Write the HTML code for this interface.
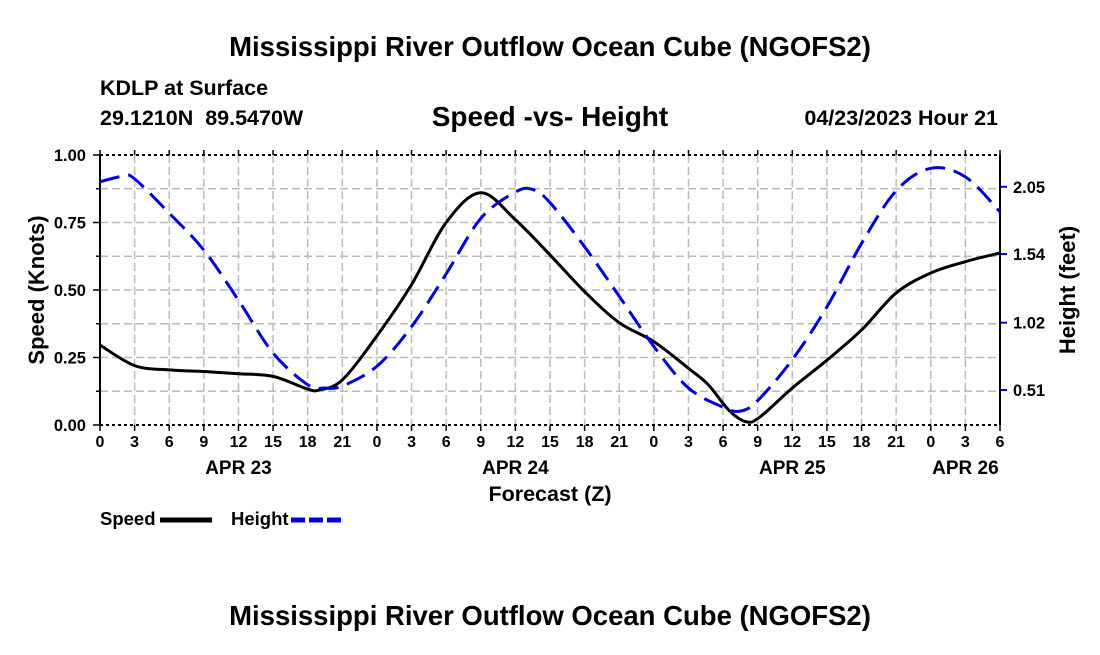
<!DOCTYPE html>
<html><head><meta charset="utf-8"><style>
body{margin:0;background:#fff;width:1100px;height:650px;overflow:hidden}
svg{font-family:"Liberation Sans",Arial,sans-serif;font-weight:bold}
</style></head><body>
<svg id="c" width="1100" height="650">
<text x="550" y="56" text-anchor="middle" font-size="27.5">Mississippi River Outflow Ocean Cube (NGOFS2)</text>
<text x="100" y="95" font-size="21.5">KDLP at Surface</text>
<text x="100" y="125" font-size="21.5" style="white-space:pre">29.1210N  89.5470W</text>
<text x="550" y="126" text-anchor="middle" font-size="28">Speed -vs- Height</text>
<text x="998" y="125" text-anchor="end" font-size="21.5">04/23/2023 Hour 21</text>
<g id="grid"></g><g id="axes"></g><g id="series"></g>
<text transform="translate(44,290) rotate(-90)" text-anchor="middle" font-size="22">Speed (Knots)</text>
<text transform="translate(1075,290) rotate(-90)" text-anchor="middle" font-size="22">Height (feet)</text>
<text x="550" y="501" text-anchor="middle" font-size="21.5">Forecast (Z)</text>
<g>
<text x="100" y="525" font-size="18.5">Speed</text>
<line x1="160" y1="520" x2="212" y2="520" stroke="#000" stroke-width="5"/>
<text x="231" y="525" font-size="18.5">Height</text>
<line x1="291" y1="520" x2="342" y2="520" stroke="#0000dd" stroke-width="5" stroke-dasharray="14,4"/>
</g>
<text x="550" y="625" text-anchor="middle" font-size="27.5">Mississippi River Outflow Ocean Cube (NGOFS2)</text>
</svg>
<script>
const hours=[0,3,6,9,12,15,18,19,21,24,27,30,33,36,39,42,45,48,51,52.7,54.5,56,57.2,60,63,66,69,72,75,78];
const speed=[0.296,0.22,0.204,0.198,0.19,0.18,0.133,0.13,0.167,0.33,0.52,0.75,0.86,0.76,0.63,0.494,0.379,0.309,0.21,0.15,0.055,0.012,0.03,0.137,0.24,0.352,0.489,0.563,0.605,0.637];
const hHours=[0,2,3,6,9,12,15,18,19.5,21,24,27,30,33,36,37.5,39,42,45,48,51,54,55.5,57,60,63,66,69,72,75,78];
const height=[2.088,2.13,2.11,1.85,1.57,1.19,0.79,0.55,0.525,0.54,0.69,0.99,1.39,1.81,2.01,2.03,1.93,1.595,1.22,0.84,0.525,0.38,0.35,0.43,0.74,1.14,1.62,2.02,2.19,2.125,1.86];
const xTickLabels=["0","3","6","9","12","15","18","21","0","3","6","9","12","15","18","21","0","3","6","9","12","15","18","21","0","3","6"];
const speedTicks=[0,0.25,0.5,0.75,1.0];
const heightTicks=[0.51,1.02,1.54,2.05];
const dayLabels=["APR 23","APR 24","APR 25","APR 26"];
const dayHours=[12,36,60,75];
const L=100,R=1000,T=155,B=425,NS="http://www.w3.org/2000/svg";
const xs=h=>L+h*(R-L)/78, ys=s=>B-s*(B-T), yh=f=>390-(f-0.51)*(67.3/0.51);
function mk(t,a,p){const e=document.createElementNS(NS,t);for(const k in a)e.setAttribute(k,a[k]);p.appendChild(e);return e;}
const g=document.getElementById('grid'),ax=document.getElementById('axes'),se=document.getElementById('series');
for(let i=1;i<26;i++){const l=mk('line',{x1:xs(i*3),x2:xs(i*3),y1:T,y2:B,stroke:'#bbb','stroke-width':1.5,'stroke-dasharray':'8,4'},g);

}
for(let i=1;i<8;i++){const l=mk('line',{x1:L,x2:R,y1:ys(i*0.125),y2:ys(i*0.125),stroke:'#bbb','stroke-width':1.5,'stroke-dasharray':'8,4'},g);

}
[[L,T,L,B,'#000','none'],[R,T,R,B,'#000','none'],[L,T,R,T,'#000','3,3'],[L,B,R,B,'#000','3,3']].forEach(a=>{const l=mk('line',{x1:a[0],y1:a[1],x2:a[2],y2:a[3],stroke:a[4],'stroke-width':2,'stroke-dasharray':a[5]},ax);

});
xTickLabels.forEach((t,i)=>{const x=xs(i*3);mk('line',{x1:x,x2:x,y1:B,y2:B+6,stroke:'#000','stroke-width':1.5},ax);mk('line',{x1:x,x2:x,y1:T,y2:T-5,stroke:'#000','stroke-width':1.5},ax);
const e=mk('text',{x:x,y:B+22,'text-anchor':'middle','font-size':16},ax);e.textContent=t;

});
dayLabels.forEach((t,i)=>{const e=mk('text',{x:xs(dayHours[i]),y:B+49,'text-anchor':'middle','font-size':19},ax);e.textContent=t;

});
for(let i=0;i<=8;i++){mk('line',{x1:L-(i%2?4:7),x2:L,y1:ys(i*0.125),y2:ys(i*0.125),stroke:'#000','stroke-width':1.5},ax);}
speedTicks.forEach(s=>{const e=mk('text',{x:L-14,y:ys(s)+6,'text-anchor':'end','font-size':16.5},ax);e.textContent=s.toFixed(2);

});
heightTicks.forEach(f=>{mk('line',{x1:R,x2:R+7,y1:yh(f),y2:yh(f),stroke:'#0000cc','stroke-width':2},ax);
const e=mk('text',{x:R+13,y:yh(f)+6,'font-size':16.5},ax);e.textContent=f.toFixed(2);

});
function path(px){let d='M'+px[0][0]+','+px[0][1];for(let i=0;i<px.length-1;i++){const p0=px[Math.max(0,i-1)],p1=px[i],p2=px[i+1],p3=px[Math.min(px.length-1,i+2)];
d+=' C'+(p1[0]+(p2[0]-p0[0])/6)+','+(p1[1]+(p2[1]-p0[1])/6)+' '+(p2[0]-(p3[0]-p1[0])/6)+','+(p2[1]-(p3[1]-p1[1])/6)+' '+p2[0]+','+p2[1];}return d;}
const ps=mk('path',{d:path(hours.map((h,i)=>[xs(h),ys(speed[i])])),fill:'none',stroke:'#000','stroke-width':3},se);


const ph=mk('path',{d:path(hHours.map((h,i)=>[xs(h),yh(height[i])])),fill:'none',stroke:'#0000dd','stroke-width':3,'stroke-dasharray':'20,9'},se);


</script>
</body></html>
